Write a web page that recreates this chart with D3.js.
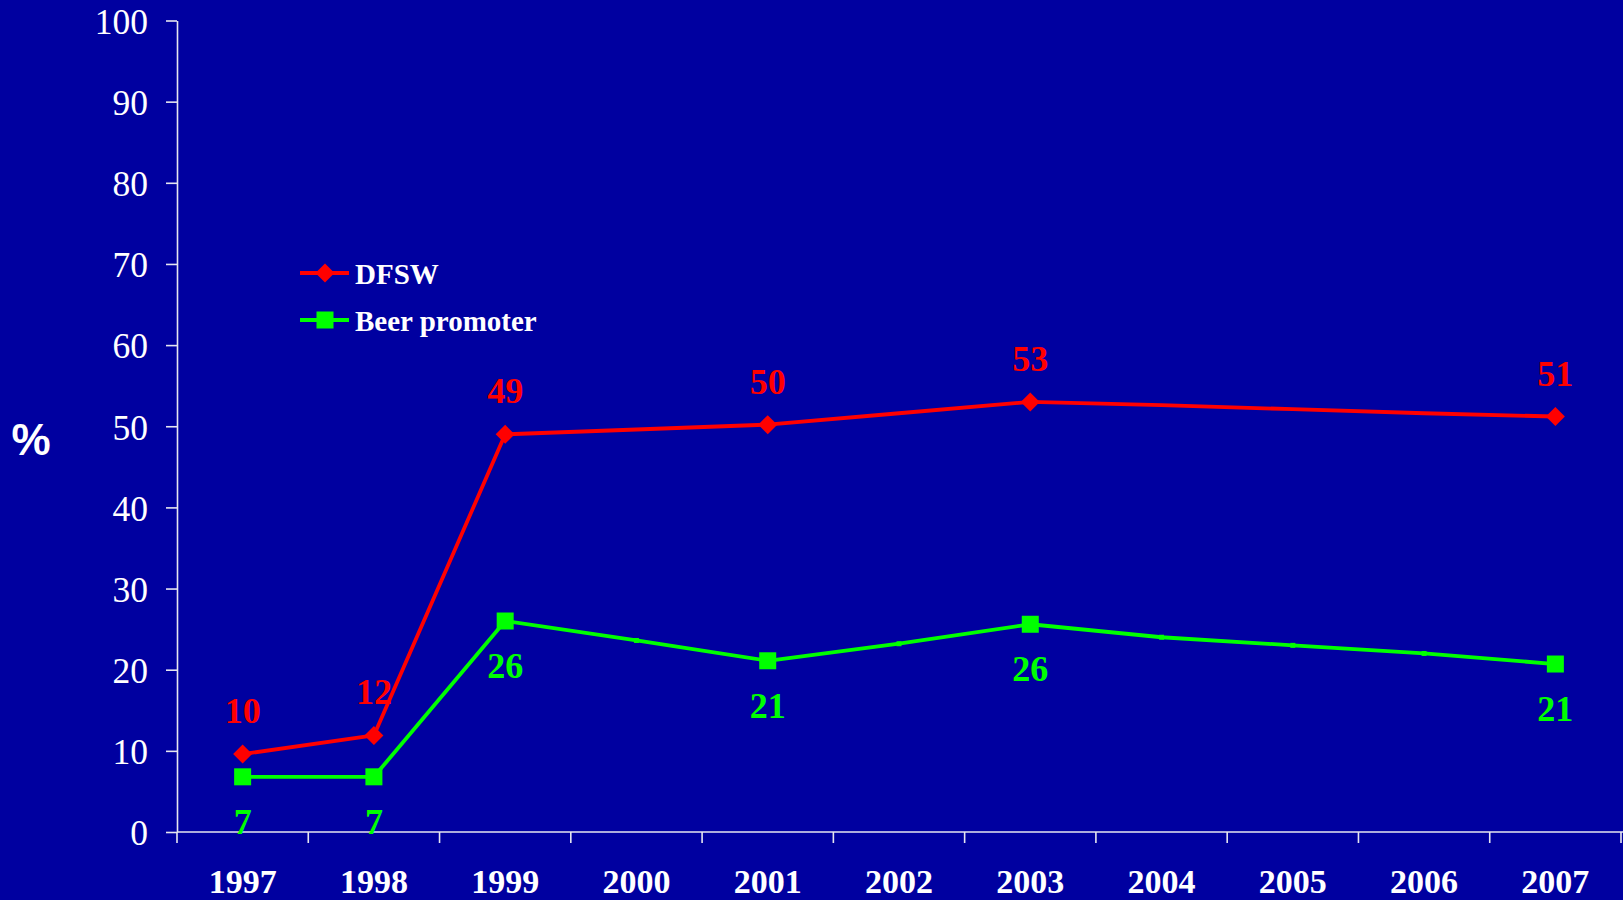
<!DOCTYPE html>
<html>
<head>
<meta charset="utf-8">
<script src="https://cdn.jsdelivr.net/npm/d3@7"></script>
<style>
  html, body { margin: 0; padding: 0; background: #0000A0; }
  svg { display: block; }
</style>
</head>
<body>
<svg id="chart" width="1623" height="900"></svg>
<script>
const years = ["1997","1998","1999","2000","2001","2002","2003","2004","2005","2006","2007"];
const dfsw = [9.6, 11.9, 49.0, 49.6, 50.2, 51.6, 53.0, 52.6, 52.1, 51.6, 51.2];
const beer = [6.8, 6.8, 26.0, 23.6, 21.1, 23.2, 25.6, 24.0, 23.0, 22.0, 20.7];
const dfswLabels = ["10","12","49","","50","","53","","","","51"];
const beerLabels = ["7","7","26","","21","","26","","","","21"];
const yTicks = [0,10,20,30,40,50,60,70,80,90,100];
const seriesNames = ["DFSW", "Beer promoter"];

const serif = '"Liberation Serif", "Times New Roman", serif';
const axisColor = "#e6e6f0";
const RED = "#ff0000", GREEN = "#00ff00";

const svg = d3.select("#chart");
svg.append("rect").attr("width", 1623).attr("height", 900).attr("fill", "#0000A0");

const x = d3.scaleBand().domain(years).range([177, 1621]).padding(0);
const y = d3.scaleLinear().domain([0, 100]).range([832, 20.5]);
const cx = d => x(d) + x.bandwidth() / 2;

// Y axis
const yAxis = svg.append("g").attr("transform", "translate(177,0)")
  .call(d3.axisLeft(y).tickValues(yTicks).tickSize(11).tickSizeOuter(0).tickPadding(18));
yAxis.select(".domain").attr("stroke", axisColor).attr("stroke-width", 1.6);
yAxis.selectAll(".tick line").attr("stroke", axisColor).attr("stroke-width", 1.6);
yAxis.selectAll(".tick text").attr("fill", "#ffffff").style("font-family", serif)
  .style("font-size", "35.5px").attr("dy", "0.36em");

// X axis line and boundary ticks
const xg = svg.append("g");
xg.append("line").attr("x1", 177).attr("x2", 1623).attr("y1", y(0)).attr("y2", y(0))
  .attr("stroke", axisColor).attr("stroke-width", 1.6);
const bounds = years.map(d => x(d)).concat([x.range()[1]]);
xg.selectAll("line.tk").data(bounds).enter().append("line").attr("class", "tk")
  .attr("x1", d => d).attr("x2", d => d).attr("y1", y(0)).attr("y2", y(0) + 11)
  .attr("stroke", axisColor).attr("stroke-width", 1.6);
xg.selectAll("text").data(years).enter().append("text")
  .attr("x", d => cx(d)).attr("y", 893).attr("text-anchor", "middle")
  .attr("fill", "#ffffff").style("font-family", serif).style("font-size", "34px")
  .style("font-weight", "bold").text(d => d);

// % label
svg.append("text").attr("x", 31).attr("y", 455).attr("text-anchor", "middle")
  .attr("fill", "#ffffff").style("font-family", '"Liberation Sans", Arial, sans-serif')
  .style("font-size", "44px").style("font-weight", "bold").text("%");

const line = d3.line().x(d => cx(d.year)).y(d => y(d.v));
const mk = (vals, labels) => years.map((yr, i) => ({ year: yr, v: vals[i], label: labels[i] }));
const redData = mk(dfsw, dfswLabels);
const greenData = mk(beer, beerLabels);

// lines
svg.append("path").datum(greenData).attr("d", line).attr("fill", "none")
  .attr("stroke", GREEN).attr("stroke-width", 3.8).attr("stroke-linejoin", "round");
svg.append("path").datum(redData).attr("d", line).attr("fill", "none")
  .attr("stroke", RED).attr("stroke-width", 3.8).attr("stroke-linejoin", "round");

// small markers at unlabeled points
svg.selectAll("rect.gs").data(greenData.filter(d => !d.label)).enter().append("rect")
  .attr("class", "gs").attr("x", d => cx(d.year) - 2.5).attr("y", d => y(d.v) - 2.5)
  .attr("width", 5).attr("height", 5).attr("fill", GREEN);

// big markers
const diamond = (s) => `M0,${-s} L${s},0 L0,${s} L${-s},0 Z`;
svg.selectAll("path.dm").data(redData.filter(d => d.label)).enter().append("path")
  .attr("class", "dm").attr("d", diamond(9.5))
  .attr("transform", d => `translate(${cx(d.year)},${y(d.v)})`).attr("fill", RED);
svg.selectAll("rect.sq").data(greenData.filter(d => d.label)).enter().append("rect")
  .attr("class", "sq").attr("x", d => cx(d.year) - 8.5).attr("y", d => y(d.v) - 8.5)
  .attr("width", 17).attr("height", 17).attr("fill", GREEN);

// data labels
svg.selectAll("text.rl").data(redData.filter(d => d.label)).enter().append("text")
  .attr("class", "rl").attr("x", d => cx(d.year)).attr("y", d => y(d.v) - 31)
  .attr("text-anchor", "middle").attr("fill", RED).style("font-family", serif)
  .style("font-size", "36px").style("font-weight", "bold").text(d => d.label);
svg.selectAll("text.gl").data(greenData.filter(d => d.label)).enter().append("text")
  .attr("class", "gl").attr("x", d => cx(d.year)).attr("y", d => y(d.v) + 57)
  .attr("text-anchor", "middle").attr("fill", GREEN).style("font-family", serif)
  .style("font-size", "36px").style("font-weight", "bold").text(d => d.label);

// legend
const lg = svg.append("g");
const legendItems = [
  { name: seriesNames[0], color: RED, yy: 273, type: "diamond" },
  { name: seriesNames[1], color: GREEN, yy: 320, type: "square" }
];
legendItems.forEach(it => {
  lg.append("line").attr("x1", 300).attr("x2", 349).attr("y1", it.yy).attr("y2", it.yy)
    .attr("stroke", it.color).attr("stroke-width", 3.8);
  if (it.type === "diamond") {
    lg.append("path").attr("d", diamond(9.5)).attr("transform", `translate(325,${it.yy})`).attr("fill", it.color);
  } else {
    lg.append("rect").attr("x", 325 - 8.5).attr("y", it.yy - 8.5).attr("width", 17).attr("height", 17).attr("fill", it.color);
  }
  lg.append("text").attr("x", 355).attr("y", it.yy + 11).attr("fill", "#ffffff")
    .style("font-family", serif).style("font-size", "29px").style("font-weight", "bold").text(it.name);
});
</script>
</body>
</html>
